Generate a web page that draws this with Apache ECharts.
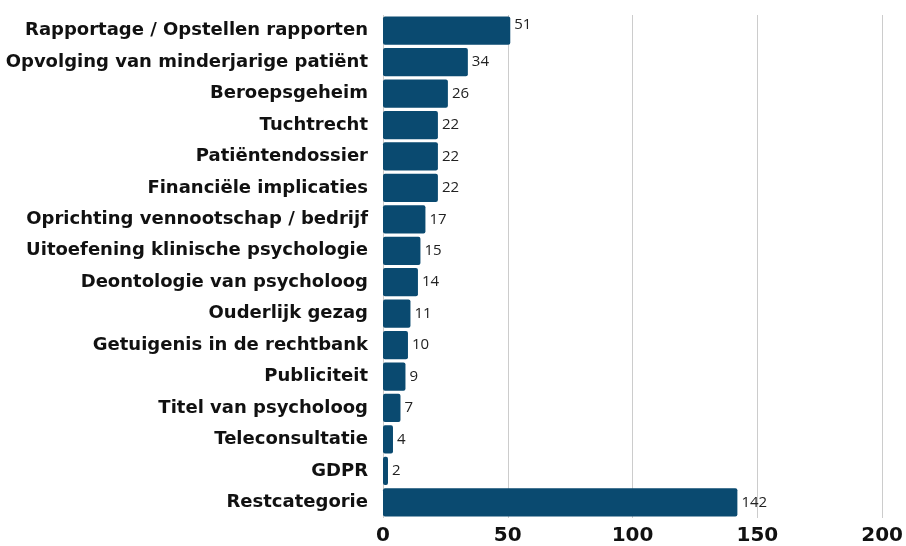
<!DOCTYPE html>
<html>
<head>
<meta charset="utf-8">
<script src="https://cdn.jsdelivr.net/npm/echarts@6/dist/echarts.min.js"></script>
<style>
  html, body { margin: 0; padding: 0; background: #fff; }
  #chart { width: 906px; height: 546px; }
</style>
</head>
<body>
<div id="chart"></div>
<script>
const categories = [
  'Rapportage / Opstellen rapporten',
  'Opvolging van minderjarige patiënt',
  'Beroepsgeheim',
  'Tuchtrecht',
  'Patiëntendossier',
  'Financiële implicaties',
  'Oprichting vennootschap / bedrijf',
  'Uitoefening klinische psychologie',
  'Deontologie van psycholoog',
  'Ouderlijk gezag',
  'Getuigenis in de rechtbank',
  'Publiciteit',
  'Titel van psycholoog',
  'Teleconsultatie',
  'GDPR',
  'Restcategorie'
]
const counts = [51, 34, 26, 22, 22, 22, 17, 15, 14, 11, 10, 9, 7, 4, 2, 142]

const barColor = '#0a4a70'

// first label sits a bit higher in the original
const barData = counts.map((v, i) => i === 0 ? { value: v, label: { offset: [0, -6] } } : v)

const chart = echarts.init(document.getElementById('chart'))
chart.setOption({
  animation: false,
  grid: { left: 383, right: 21, top: 15, bottom: 27, containLabel: false },
  xAxis: {
    type: 'value',
    min: 0,
    max: 200,
    interval: 50,
    axisLine: { show: false },
    axisTick: { show: false },
    splitLine: { show: true, lineStyle: { color: '#cccccc', width: 1 } },
    axisLabel: {
      color: '#111',
      fontFamily: 'DejaVu Sans',
      fontWeight: 'bold',
      fontSize: 20,
      margin: 8
    }
  },
  yAxis: {
    type: 'category',
    data: categories,
    inverse: true,
    axisLine: { show: false },
    axisTick: { show: false },
    axisLabel: {
      color: '#111',
      fontFamily: 'DejaVu Sans',
      fontWeight: 'bold',
      fontSize: 18,
      margin: 15
    }
  },
  series: [{
    type: 'bar',
    data: barData,
    barCategoryGap: '10%',
    itemStyle: { color: barColor, borderRadius: 2 },
    label: {
      show: true,
      position: 'right',
      distance: 4,
      color: '#222',
      fontFamily: 'Open Sans',
      fontSize: 15
    }
  }]
})
</script>
</body>
</html>
